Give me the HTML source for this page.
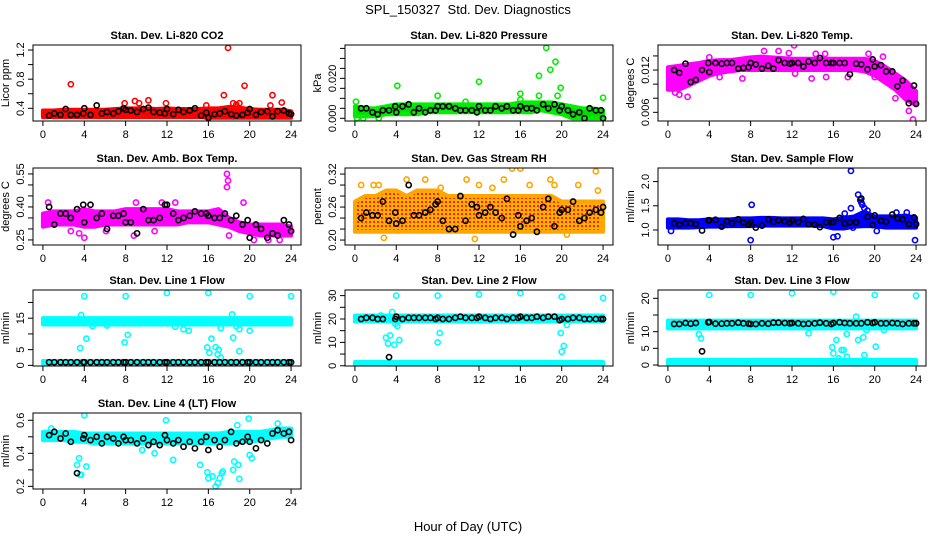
<!DOCTYPE html>
<html><head><meta charset="utf-8"><title>SPL_150327 Std. Dev. Diagnostics</title>
<style>
html,body{margin:0;padding:0;background:#fff;}
svg{display:block;font-family:"Liberation Sans",Arial,sans-serif;}
</style></head>
<body>
<svg id="chart" width="936" height="540" viewBox="0 0 936 540" xmlns="http://www.w3.org/2000/svg">
<defs>
<pattern id="rhpat" width="4" height="4" patternUnits="userSpaceOnUse">
<rect width="4" height="4" fill="#ffb000"/><rect x="1" y="1" width="2" height="2" fill="#ff2000"/>
</pattern>
</defs>
<text x="468" y="14" text-anchor="middle" font-size="13">SPL_150327&#160; Std. Dev. Diagnostics</text>
<text x="468" y="531" text-anchor="middle" font-size="13">Hour of Day (UTC)</text>
</svg>
<script>
// shared time arrays
const bandT = [0,1,2,3,4,5,6,7,8,9,10,11,12,13,14,15,16,17,18,19,20,21,22,23,24];
const blackT = [0.6,1.1,1.7,2.2,2.7,3.3,3.9,4.0,4.6,5.2,5.7,6.2,6.8,7.3,7.8,8.0,8.5,9.1,9.7,10.2,10.7,11.3,11.8,12.0,12.6,13.1,13.6,14.2,14.7,15.3,15.8,16.0,16.6,17.1,17.6,18.2,18.7,19.3,19.8,20.0,20.6,21.1,21.7,22.2,22.7,23.3,23.8,24.0];
const xTicks = [0,4,8,12,16,20,24];

// CO2
const co2Lo = [0.28,0.28,0.28,0.28,0.28,0.28,0.28,0.28,0.28,0.28,0.28,0.28,0.28,0.28,0.28,0.28,0.27,0.27,0.27,0.27,0.27,0.27,0.27,0.27,0.27];
const co2Hi = [0.37,0.37,0.38,0.38,0.38,0.38,0.38,0.39,0.40,0.40,0.40,0.39,0.40,0.39,0.39,0.39,0.40,0.40,0.42,0.41,0.39,0.38,0.38,0.38,0.36];
const co2OutT = [2.7,17.9,17.5,19.5,22.2,23.1,8.9,10.2,9.3,11.9,18.4,19.0,22.0,15.8,7.9,18.7];
const co2OutV = [0.73,1.23,0.58,0.71,0.58,0.48,0.50,0.51,0.47,0.47,0.47,0.47,0.44,0.44,0.47,0.45];
const co2Black = [0.30,0.33,0.31,0.39,0.31,0.31,0.33,0.40,0.31,0.44,0.33,0.35,0.33,0.36,0.40,0.38,0.37,0.35,0.39,0.41,0.35,0.34,0.33,0.39,0.32,0.38,0.35,0.37,0.40,0.30,0.34,0.27,0.32,0.33,0.36,0.32,0.30,0.31,0.34,0.39,0.31,0.35,0.36,0.29,0.36,0.37,0.33,0.32];

// Pressure
const prLo = [0.001,0.001,0.001,0.002,0.002,0.002,0.002,0.003,0.003,0.003,0.003,0.003,0.003,0.003,0.003,0.003,0.003,0.003,0.004,0.003,0.002,0.000,0.000,0.000,0.000];
const prHi = [0.006,0.005,0.005,0.006,0.007,0.007,0.007,0.007,0.007,0.007,0.007,0.007,0.007,0.007,0.007,0.007,0.008,0.008,0.008,0.008,0.007,0.006,0.005,0.005,0.004];
const prOutT = [0.1,4.1,8.0,12.0,16.0,16.0,17.8,17.8,18.5,18.9,19.4,19.6,19.9,24.0,10.7,0.2,2.3,0.8];
const prOutV = [0.0083,0.0163,0.0113,0.0183,0.0123,0.0093,0.0213,0.0113,0.0353,0.0243,0.0283,0.0113,0.0153,0.0103,0.0083,0.000,0.000,0.000];
const prBlack = [0.005,0.005,0.003,0.002,0.004,0.004,0.006,0.003,0.006,0.007,0.003,0.005,0.003,0.004,0.004,0.006,0.006,0.006,0.005,0.004,0.004,0.004,0.003,0.006,0.004,0.004,0.006,0.005,0.006,0.004,0.004,0.006,0.005,0.005,0.004,0.007,0.005,0.007,0.004,0.006,0.004,0.002,0.003,0.000,0.005,0.004,0.004,0.000];

// Li-820 Temp
const ltLo = [0.0092,0.0092,0.0098,0.0105,0.0112,0.0116,0.0118,0.012,0.012,0.012,0.012,0.012,0.012,0.012,0.012,0.012,0.012,0.012,0.012,0.0118,0.0112,0.0102,0.0092,0.0078,0.007];
const ltHi = [0.0124,0.0126,0.0128,0.013,0.0133,0.0134,0.0134,0.0136,0.0138,0.0139,0.0138,0.0137,0.0136,0.0136,0.0136,0.0136,0.0136,0.0136,0.0136,0.0136,0.0133,0.0125,0.0115,0.0105,0.009];
const ltOutT = [12.2,14.3,15.2,19.4,20.8,0.7,1.9,23.3,23.7,11.7,10.7,9.3,4.0,12.3,13.9,15.3,17.4,20.0,5.0,7.2,1.1,22.0];
const ltOutV = [0.0155,0.0143,0.0143,0.0143,0.0139,0.0088,0.0082,0.0062,0.0050,0.0144,0.0147,0.0147,0.0138,0.0115,0.0108,0.011,0.011,0.011,0.011,0.0108,0.0085,0.008];
const ltBlack = [0.0120,0.0116,0.0129,0.0103,0.0106,0.0120,0.0130,0.0117,0.0130,0.0129,0.0130,0.0130,0.0122,0.0123,0.0124,0.0130,0.0128,0.0122,0.0126,0.0122,0.0134,0.0130,0.0129,0.0130,0.0130,0.0125,0.0132,0.0130,0.0137,0.0130,0.0130,0.0130,0.0130,0.0130,0.0114,0.0129,0.0128,0.0121,0.0135,0.0125,0.0127,0.0118,0.0118,0.0097,0.0105,0.0073,0.0098,0.0072];

// Amb Box Temp
const abLo = [0.31,0.32,0.32,0.32,0.31,0.31,0.32,0.32,0.32,0.32,0.32,0.32,0.32,0.32,0.33,0.33,0.33,0.32,0.31,0.29,0.28,0.27,0.27,0.27,0.27];
const abHi = [0.37,0.38,0.38,0.38,0.39,0.38,0.38,0.38,0.39,0.39,0.39,0.39,0.39,0.38,0.38,0.38,0.38,0.39,0.35,0.33,0.32,0.32,0.32,0.32,0.31];
const abOutT = [17.8,17.9,17.8,19.4,0.5,9.0,2.7,3.5,4.0,8.8,18.0,20.4,21.8,22.9,11.5,12.8,6.1,10.8];
const abOutV = [0.55,0.52,0.49,0.42,0.42,0.42,0.29,0.28,0.26,0.27,0.27,0.25,0.25,0.25,0.42,0.42,0.29,0.29];
const abBlack = [0.40,0.32,0.37,0.37,0.35,0.39,0.41,0.33,0.41,0.35,0.37,0.30,0.36,0.36,0.37,0.33,0.33,0.28,0.39,0.34,0.34,0.35,0.41,0.41,0.37,0.34,0.35,0.36,0.38,0.37,0.37,0.36,0.35,0.35,0.37,0.34,0.36,0.32,0.34,0.26,0.32,0.30,0.26,0.28,0.27,0.34,0.32,0.29];

// Gas Stream RH
const rhLo = [0.215,0.215,0.215,0.215,0.215,0.215,0.215,0.215,0.215,0.215,0.215,0.215,0.215,0.215,0.215,0.215,0.215,0.215,0.215,0.215,0.215,0.215,0.215,0.215,0.215];
const rhHi = [0.27,0.28,0.28,0.29,0.29,0.28,0.29,0.29,0.29,0.28,0.28,0.28,0.28,0.28,0.28,0.28,0.28,0.28,0.28,0.28,0.27,0.27,0.27,0.27,0.27];
const rhOutT = [0.6,1.8,2.3,5.0,6.8,10.8,12.0,14.4,15.2,16.0,18.9,19.3,21.6,23.3,2.8,11.6,20.5,8.3,16.9,13.3,23.5];
const rhOutV = [0.30,0.30,0.30,0.31,0.31,0.31,0.30,0.31,0.33,0.33,0.31,0.30,0.30,0.325,0.204,0.202,0.21,0.295,0.30,0.295,0.29];
const rhBlack = [0.24,0.25,0.245,0.245,0.27,0.235,0.25,0.23,0.235,0.30,0.245,0.245,0.25,0.255,0.265,0.27,0.235,0.22,0.22,0.28,0.235,0.265,0.26,0.245,0.25,0.26,0.25,0.24,0.275,0.21,0.245,0.225,0.235,0.24,0.215,0.26,0.275,0.225,0.25,0.255,0.255,0.27,0.235,0.24,0.25,0.255,0.25,0.26];

// Sample Flow
const sfLo = [1.05,1.05,1.05,1.06,1.07,1.07,1.08,1.08,1.08,1.09,1.09,1.09,1.09,1.09,1.09,1.08,1.03,1.03,1.07,1.08,1.08,1.05,1.05,1.05,1.05];
const sfHi = [1.22,1.22,1.20,1.20,1.22,1.22,1.22,1.24,1.24,1.25,1.25,1.24,1.24,1.24,1.24,1.24,1.22,1.25,1.28,1.38,1.28,1.28,1.28,1.30,1.25];
const sfOutT = [8.1,8.0,16.0,16.4,17.7,17.7,18.4,18.6,18.7,18.8,19.0,19.3,23.9,20.2,22.1,23.1,0.3,17.1,17.9];
const sfOutV = [1.52,0.79,0.85,0.87,2.22,1.45,1.73,1.62,1.57,1.52,1.45,1.40,0.79,0.98,1.36,1.36,0.98,1.34,1.05];
const sfBlack = [1.14,1.11,1.14,1.14,1.12,0.99,1.20,1.20,1.21,1.07,1.18,1.14,1.22,1.15,1.12,1.16,1.05,1.09,1.22,1.17,1.20,1.18,1.15,1.20,1.16,1.23,1.12,1.11,1.06,1.16,1.16,1.17,1.25,1.13,1.16,1.16,1.65,1.27,1.10,1.30,1.19,1.17,1.32,1.24,1.22,1.12,1.26,1.12];

// Line 1 Flow
const l1Lo = [13,13,13,13,13,13,13,13,13,13,13,13,13,13,13,13,13,13,13,13,13,13,13,13,13];
const l1Hi = [15,15,15,15,15,15,15,15,15,15,15,15,15,15,15,15,15,15,15,15,15,15,15,15,15];
const l1Lo2 = [0.6,0.6,0.6,0.6,0.6,0.6,0.6,0.6,0.6,0.6,0.6,0.6,0.6,0.6,0.6,0.6,0.6,0.6,0.6,0.6,0.6,0.6,0.6,0.6,0.6];
const l1Hi2 = [1.4,1.4,1.4,1.4,1.4,1.4,1.4,1.4,1.4,1.4,1.4,1.4,1.4,1.4,1.4,1.4,1.4,1.4,1.4,1.4,1.4,1.4,1.4,1.4,1.4];
const l1OutT = [4.0,8.0,12.0,16.0,20.0,24.0,3.7,3.6,4.2,7.9,8.2,13.6,14.1,15.9,16.1,16.3,16.7,16.9,17.0,17.2,17.2,18.3,18.4,18.7,19.0,19.0,20.0,12.8,6.2,4.8];
const l1OutV = [22,22,23,23,22,22,16,5.5,8.5,7.3,9.7,11.5,11,5.7,4,8.5,5.8,3.5,5,2.5,11.8,16.2,8.8,12.5,4.5,11.5,11,12.3,12.7,12.5];
const l1Black = [1,1,1,1,1,1,1,1,1,1,1,1,1,1,1,1,1,1,1,1,1,1,1,1,1,1,1,1,1,1,1,1,1,1,1,1,1,1,1,1,1,1,1,1,1,1,1,1];

// Line 2 Flow
const l2Lo = [19,19,19,19,19,19,19,19,19,19,19,19,19,19,19,19,19,19,19,19,19,19,19,19,19];
const l2Hi = [21.5,21.5,21.5,21.5,21.5,21.5,21.5,21.5,21.5,21.5,21.5,21.5,21.5,21.5,21.5,21.5,21.5,21.5,21.5,21.5,21.5,21.5,21.5,21.5,21.5];
const l2Lo2 = [0.4,0.4,0.4,0.4,0.4,0.4,0.4,0.4,0.4,0.4,0.4,0.4,0.4,0.4,0.4,0.4,0.4,0.4,0.4,0.4,0.4,0.4,0.4,0.4,0.4];
const l2Hi2 = [1.6,1.6,1.6,1.6,1.6,1.6,1.6,1.6,1.6,1.6,1.6,1.6,1.6,1.6,1.6,1.6,1.6,1.6,1.6,1.6,1.6,1.6,1.6,1.6,1.6];
const l2OutT = [4.0,8.0,12.0,16.0,20.0,24.0,3.0,3.2,3.4,3.6,3.8,3.9,4.1,4.3,8.0,8.2,19.9,20.0,20.2,20.5,2.5];
const l2OutV = [30,30,30.5,31,29.5,29,12,9.5,13,23,9,18,17,11,10,14,14,6,8.5,17.5,21.5];
const l2Black = [20,20.5,20.5,20,20,3.7,20,21,20,20.5,20.5,20.5,20.5,20.5,20,20.5,20,20,20.5,21,20.5,20.5,20.5,21,20.5,20,20.5,20.5,20,20.5,20.5,21,20.5,20.5,21,20.5,21,21,19.5,20,20,20.5,20.5,20,20,20,20,20];

// Line 3 Flow
const l3Lo = [11,11,11,11,11,11,11,11,11,11,11,11,11,11,11,11,11,11,11,11,11,11,11,11,11];
const l3Hi = [13.3,13.3,13.3,13.3,13.3,13.3,13.3,13.3,13.3,13.3,13.3,13.3,13.3,13.3,13.3,13.3,13.3,13.3,13.3,13.3,13.3,13.3,13.3,13.3,13.3];
const l3Lo2 = [0.3,0.3,0.3,0.3,0.3,0.3,0.3,0.3,0.3,0.3,0.3,0.3,0.3,0.3,0.3,0.3,0.3,0.3,0.3,0.3,0.3,0.3,0.3,0.3,0.3];
const l3Hi2 = [1.5,1.5,1.5,1.5,1.5,1.5,1.5,1.5,1.5,1.5,1.5,1.5,1.5,1.5,1.5,1.5,1.5,1.5,1.5,1.5,1.5,1.5,1.5,1.5,1.5];
const l3OutT = [4,8,12,16,20,24,3.0,3.2,13.6,15.9,16.0,16.3,16.8,17.0,17.3,17.3,18.2,18.4,18.9,19.0,19.2,20.1,20.9,16.5,18.6];
const l3OutV = [21,21,21.5,22,21,20.8,9.2,8,9.5,5.3,3.5,7.5,4.5,4.5,2.5,9.3,14.5,7.5,8.3,3.0,10.5,5.5,10.5,2,1.2];
const l3Black = [12.3,12.3,12.6,12.4,12.6,4.1,12.8,12.9,12.4,12.4,12.5,12.5,12.7,12.5,12.4,12.3,12.3,12.5,12.4,12.7,12.7,12.6,12.5,12.6,12.5,12.3,12.4,12.5,12.7,12.5,12.3,12.6,12.8,12.6,12.5,12.5,12.5,12.8,12.6,12.8,12.5,12.5,12.6,12.5,12.3,12.5,12.5,12.5];

// Line 4 (LT) Flow
const l4Lo = [0.48,0.48,0.48,0.47,0.47,0.46,0.46,0.46,0.46,0.46,0.46,0.46,0.46,0.46,0.46,0.46,0.46,0.46,0.46,0.47,0.47,0.48,0.49,0.50,0.50];
const l4Hi = [0.53,0.53,0.53,0.53,0.52,0.52,0.52,0.52,0.52,0.52,0.52,0.52,0.52,0.52,0.52,0.52,0.52,0.52,0.53,0.53,0.53,0.53,0.54,0.55,0.55];
const l4OutT = [4.0,3.3,3.5,3.6,3.7,4.2,11.9,12.6,15.2,15.9,16.0,16.4,16.7,16.9,17.1,17.3,17.4,18.4,18.5,18.9,19.0,19.9,20.0,20.2,18.8,22.7,0.8,10.8,9.6];
const l4OutV = [0.63,0.33,0.37,0.27,0.27,0.32,0.60,0.36,0.33,0.285,0.25,0.26,0.20,0.22,0.25,0.28,0.29,0.30,0.35,0.33,0.245,0.61,0.39,0.37,0.57,0.58,0.55,0.40,0.42];
const l4Black = [0.51,0.53,0.49,0.52,0.47,0.28,0.49,0.51,0.48,0.50,0.46,0.50,0.49,0.46,0.50,0.48,0.48,0.46,0.49,0.45,0.47,0.45,0.51,0.48,0.46,0.48,0.44,0.47,0.43,0.47,0.50,0.42,0.48,0.44,0.48,0.53,0.46,0.47,0.50,0.47,0.43,0.48,0.46,0.52,0.54,0.52,0.53,0.48];

// y-axis ticks per panel
const co2Ticks = [0.4,0.6,0.8,1.0,1.2]; const co2Labels = ["0.4","","0.8","","1.2"];
const prTicks = [0,0.005,0.01,0.015,0.02,0.025,0.03,0.035]; const prLabels = ["0.000","","","","0.020","","",""];
const ltTicks = [0.006,0.008,0.010,0.012,0.014]; const ltLabels = ["0.006","","","0.012",""];
const abTicks = [0.25,0.30,0.35,0.40,0.45,0.50,0.55]; const abLabels = ["0.25","","","0.40","","","0.55"];
const rhTicks = [0.20,0.22,0.24,0.26,0.28,0.30,0.32]; const rhLabels = ["0.20","","","0.26","","","0.32"];
const sfTicks = [1.0,1.5,2.0]; const sfLabels = ["1.0","1.5","2.0"];
const l1Ticks = [0,5,10,15,20]; const l1Labels = ["0","5","","15",""];
const l2Ticks = [0,5,10,15,20,25,30]; const l2Labels = ["0","","10","","20","","30"];
const l3Ticks = [0,5,10,15,20]; const l3Labels = ["0","5","10","","20"];
const l4Ticks = [0.2,0.3,0.4,0.5,0.6]; const l4Labels = ["0.2","","0.4","","0.6"];

const NS = "http://www.w3.org/2000/svg";
const svg = document.getElementById("chart");
function mk(tag, attrs, parent){ const e=document.createElementNS(NS,tag); for(const k in attrs) e.setAttribute(k,attrs[k]); (parent||svg).appendChild(e); return e; }

const panels = [
 {id:"co2",title:"Stan. Dev. Li-820 CO2",ylab:"Licor ppm",L:33,T:45,B:121,ylim:[0.226,1.269],color:"#ff0000",fill:"#ff0000",bands:[[co2Lo,co2Hi]],oT:co2OutT,oV:co2OutV,blk:co2Black,ticks:co2Ticks,labels:co2Labels},
 {id:"pressure",title:"Stan. Dev. Li-820 Pressure",ylab:"kPa",L:345,T:45,B:121,ylim:[-0.00135,0.0367],color:"#00ee00",fill:"#00dd00",bands:[[prLo,prHi]],oT:prOutT,oV:prOutV,blk:prBlack,ticks:prTicks,labels:prLabels},
 {id:"li-temp",title:"Stan. Dev. Li-820 Temp.",ylab:"degrees C",L:658,T:45,B:121,ylim:[0.00477,0.01555],color:"#ff00ff",fill:"#ff00ff",bands:[[ltLo,ltHi]],oT:ltOutT,oV:ltOutV,blk:ltBlack,ticks:ltTicks,labels:ltLabels},
 {id:"amb-box-temp",title:"Stan. Dev. Amb. Box Temp.",ylab:"degrees C",L:33,T:168,B:245,ylim:[0.227,0.577],color:"#ff00ff",fill:"#ff00ff",bands:[[abLo,abHi]],oT:abOutT,oV:abOutV,blk:abBlack,ticks:abTicks,labels:abLabels},
 {id:"gas-rh",title:"Stan. Dev. Gas Stream RH",ylab:"percent",L:345,T:168,B:245,ylim:[0.191,0.331],color:"#ffa500",fill:"url(#rhpat)",bands:[[rhLo,rhHi]],oT:rhOutT,oV:rhOutV,blk:rhBlack,ticks:rhTicks,labels:rhLabels},
 {id:"sample-flow",title:"Stan. Dev. Sample Flow",ylab:"ml/min",L:658,T:168,B:245,ylim:[0.69,2.28],color:"#0000ff",fill:"#0000ff",bands:[[sfLo,sfHi]],oT:sfOutT,oV:sfOutV,blk:sfBlack,ticks:sfTicks,labels:sfLabels},
 {id:"line1-flow",title:"Stan. Dev. Line 1 Flow",ylab:"ml/min",L:33,T:290,B:366,ylim:[-0.2,23.96],color:"#00ffff",fill:"#00ffff",bands:[[l1Lo,l1Hi],[l1Lo2,l1Hi2]],oT:l1OutT,oV:l1OutV,blk:l1Black,ticks:l1Ticks,labels:l1Labels},
 {id:"line2-flow",title:"Stan. Dev. Line 2 Flow",ylab:"ml/min",L:345,T:290,B:366,ylim:[-0.1,32.4],color:"#00ffff",fill:"#00ffff",bands:[[l2Lo,l2Hi],[l2Lo2,l2Hi2]],oT:l2OutT,oV:l2OutV,blk:l2Black,ticks:l2Ticks,labels:l2Labels},
 {id:"line3-flow",title:"Stan. Dev. Line 3 Flow",ylab:"ml/min",L:658,T:290,B:366,ylim:[-0.3,22.5],color:"#00ffff",fill:"#00ffff",bands:[[l3Lo,l3Hi],[l3Lo2,l3Hi2]],oT:l3OutT,oV:l3OutV,blk:l3Black,ticks:l3Ticks,labels:l3Labels},
 {id:"line4-flow",title:"Stan. Dev. Line 4 (LT) Flow",ylab:"ml/min",L:33,T:413,B:489,ylim:[0.184,0.644],color:"#00ffff",fill:"#00ffff",bands:[[l4Lo,l4Hi]],oT:l4OutT,oV:l4OutV,blk:l4Black,ticks:l4Ticks,labels:l4Labels}
];

panels.forEach(p => {
  const W = 268;
  const xs = t => p.L + (t + 0.96) / 25.92 * W;
  const ys = v => p.B - (v - p.ylim[0]) / (p.ylim[1] - p.ylim[0]) * (p.B - p.T);
  const g = mk("g", {});
  
  
  const cp = mk("clipPath", {id: "clip-" + p.id}, g);
  mk("rect", {x: p.L, y: p.T, width: W, height: p.B - p.T}, cp);
  const plot = mk("g", {"clip-path": "url(#clip-" + p.id + ")"}, g);
  
  
  p.bands.forEach(b => {
    let pts = bandT.map((t,i) => xs(t) + "," + ys(b[1][i]));
    pts = pts.concat(bandT.slice().reverse().map((t,j) => { const i = bandT.length-1-j; return xs(t) + "," + ys(b[0][i]); }));
    const pg = mk("polygon", {points: pts.join(" "), fill: p.fill, stroke: p.color, "stroke-width": 4, "stroke-linejoin": "round"}, plot);
    
    
  });
  p.oT.forEach((t,i) => {
    const c = mk("circle", {cx: xs(t), cy: ys(p.oV[i]), r: 2.6, fill: "none", stroke: p.color, "stroke-width": 1.6}, plot);
    
    
  });
  blackT.forEach((t,i) => {
    const c = mk("circle", {cx: xs(t), cy: ys(p.blk[i]), r: 2.6, fill: "none", stroke: "#000", "stroke-width": 1.6}, plot);
    
    
  });
  const box = mk("rect", {x: p.L, y: p.T, width: W, height: p.B - p.T, fill: "none", stroke: "#000", "stroke-width": 1}, g);
  
  
  const tt = mk("text", {x: p.L + W/2, y: p.T - 6, "text-anchor": "middle", "font-size": 11, "font-weight": "bold"}, g);
  tt.textContent = p.title;
  
  
  xTicks.forEach(t => {
    mk("line", {x1: xs(t), x2: xs(t), y1: p.B, y2: p.B + 5, stroke: "#000"}, g);
    const lb = mk("text", {x: xs(t), y: p.B + 17, "text-anchor": "middle", "font-size": 11}, g);
    lb.textContent = t;
    
    
  });
  p.ticks.forEach((v,i) => {
    mk("line", {x1: p.L - 5, x2: p.L, y1: ys(v), y2: ys(v), stroke: "#000"}, g);
    if (p.labels[i]) {
      const x = p.L - 9, y = ys(v);
      const lb = mk("text", {x: x, y: y, "text-anchor": "middle", "font-size": 11, transform: "rotate(-90 " + x + " " + y + ")"}, g);
      lb.textContent = p.labels[i];
      
      
    }
  });
  const yx = p.L - 24, yy = (p.T + p.B) / 2;
  const yt = mk("text", {x: yx, y: yy, "text-anchor": "middle", "font-size": 11, transform: "rotate(-90 " + yx + " " + yy + ")"}, g);
  yt.textContent = p.ylab;
  
  
});
</script>
</body></html>
